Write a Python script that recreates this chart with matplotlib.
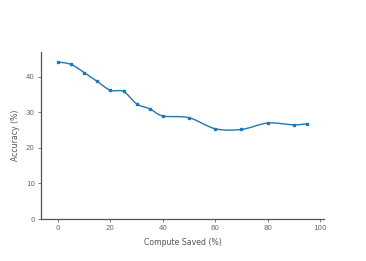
import matplotlib
matplotlib.use("Agg")
import matplotlib.pyplot as plt
import numpy as np
from matplotlib.path import Path
from matplotlib.patches import PathPatch

compute_saved = [0, 5, 10, 15, 20, 25, 30, 35, 40, 50, 60, 70, 80, 90, 95]
accuracy = [44.2, 43.5, 41.2, 38.7, 36.2, 35.9, 32.4, 31.0, 29.0, 28.5, 25.4, 25.2, 27.0, 26.5, 26.8]

x_ticks = [0, 20, 40, 60, 80, 100]
y_ticks = [0, 10, 20, 30, 40]

fig = plt.figure(figsize=(3.66, 2.61), dpi=100)
ax = fig.add_axes([41 / 366, 42 / 261, 283 / 366, 167 / 261])

# smooth line through the points (catmull-rom as cubic beziers)
pts = np.column_stack([compute_saved, accuracy]).astype(float)
verts = [pts[0]]
codes = [Path.MOVETO]
t = 0.5 / 3
for i in range(len(pts) - 1):
    p0 = pts[max(i - 1, 0)]
    p1 = pts[i]
    p2 = pts[i + 1]
    p3 = pts[min(i + 2, len(pts) - 1)]
    c1 = p1 + (p2 - p0) * t
    c2 = p2 - (p3 - p1) * t
    verts += [c1, c2, p2]
    codes += [Path.CURVE4] * 3
ax.add_patch(PathPatch(Path(verts, codes), fill=False, edgecolor='#1f77b4', lw=1.0))
ax.plot(compute_saved, accuracy, 's', c='#1f77b4', ms=2.0)

ax.set_xlim(-6.5, 101.5)
ax.set_ylim(0, 47)
ax.set_xticks(x_ticks)
ax.set_yticks(y_ticks)
for s in ['top', 'right']:
    ax.spines[s].set_visible(False)
for s in ['left', 'bottom']:
    ax.spines[s].set_color('#555555')
    ax.spines[s].set_linewidth(0.9)
ax.tick_params(labelsize=5, labelcolor='#666666', colors='#666666', length=2.5, width=0.6, pad=2)
ax.set_xlabel('Compute Saved (%)', fontsize=5.6, color='#555555', labelpad=5)
ax.set_ylabel('Accuracy (%)', fontsize=5.6, color='#555555', labelpad=4)

fig.savefig('out.png', dpi=100)
